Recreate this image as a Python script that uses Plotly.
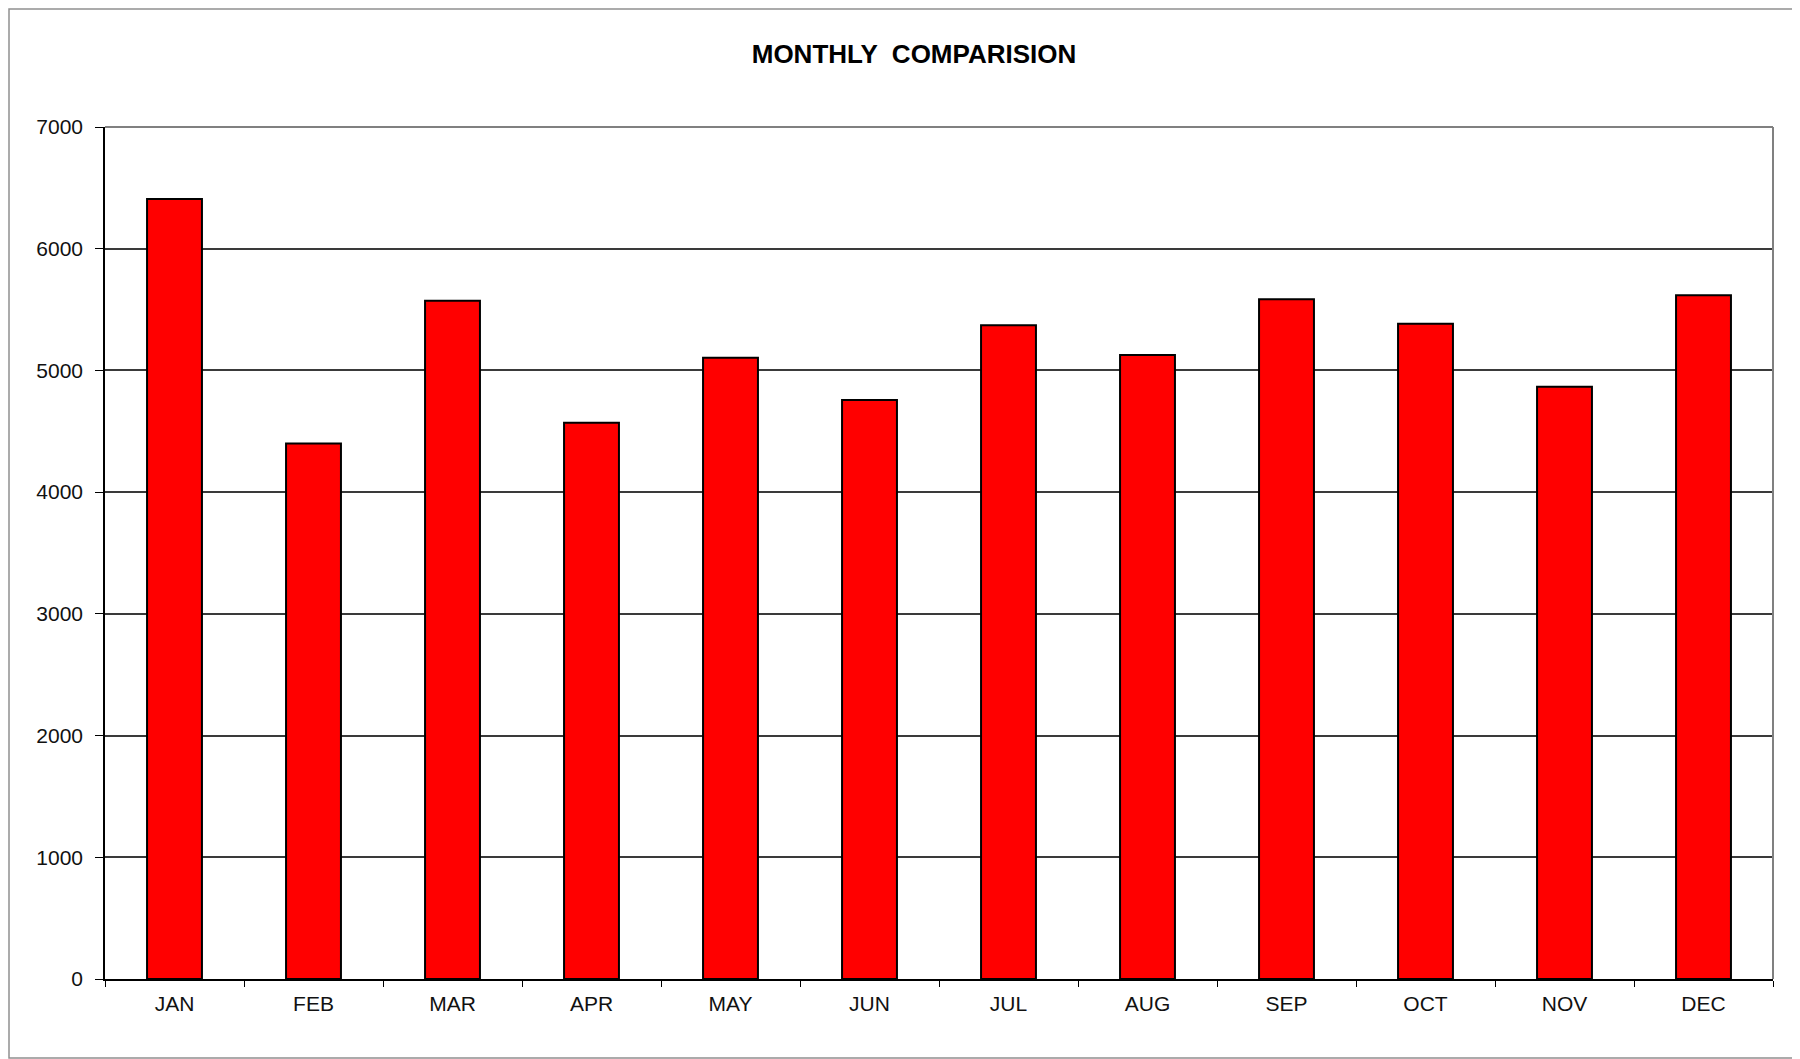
import plotly.graph_objects as go

months = ['JAN', 'FEB', 'MAR', 'APR', 'MAY', 'JUN', 'JUL', 'AUG', 'SEP', 'OCT', 'NOV', 'DEC']
values = [6408, 4400, 5572, 4570, 5105, 4758, 5372, 5127, 5584, 5384, 4865, 5617]
y_ticks = [0, 1000, 2000, 3000, 4000, 5000, 6000, 7000]

FONT = 'Liberation Sans, Arial, sans-serif'

# page body has an 8px margin, so the figure is sized to fit the window
W, H = 1792, 1051
L, R, T, B = 97, 27, 119, 80
PW, PH = W - L - R, H - T - B

fig = go.Figure()

fig.add_trace(go.Bar(
    x=months,
    y=values,
    marker=dict(color='#FF0000', line=dict(color='#000000', width=2)),
    width=0.395,
    showlegend=False
))

fig.update_layout(
    width=W,
    height=H,
    margin=dict(l=L, r=R, t=T, b=B),
    paper_bgcolor='white',
    plot_bgcolor='white',
    font=dict(family=FONT, size=21, color='#111111'),
    title=dict(
        text='<b>MONTHLY  COMPARISION</b>',
        x=906 / W,
        xanchor='center',
        y=1 - 46 / H,
        yanchor='middle',
        font=dict(family=FONT, size=26, color='#000000')
    ),
    xaxis=dict(
        type='category',
        showgrid=False,
        showline=True,
        linecolor='#000000',
        linewidth=1.5,
        ticks='outside',
        tickson='boundaries',
        ticklen=6,
        tickcolor='#000000',
        ticklabelstandoff=5,
        zeroline=False
    ),
    yaxis=dict(
        range=[0, 7000],
        tickvals=y_ticks,
        showgrid=True,
        gridcolor='#3a3a3a',
        gridwidth=1.5,
        showline=True,
        linecolor='#000000',
        linewidth=1.5,
        ticks='outside',
        ticklen=8,
        tickcolor='#000000',
        ticklabelstandoff=8,
        zeroline=False
    ),
    shapes=[
        # plot frame top and right
        dict(type='line', xref='paper', yref='paper', x0=0, x1=1, y0=1, y1=1,
             line=dict(color='#808080', width=2)),
        dict(type='line', xref='paper', yref='paper', x0=1, x1=1, y0=0, y1=1,
             line=dict(color='#808080', width=2)),
        # outer chart border
        dict(type='rect', xref='paper', yref='paper',
             x0=(1 - L) / PW, x1=1.05, y0=(H - B - 1050) / PH, y1=(H - B - 1) / PH,
             line=dict(color='#909090', width=1.5), layer='below')
    ]
)

fig.write_html("out.html")
